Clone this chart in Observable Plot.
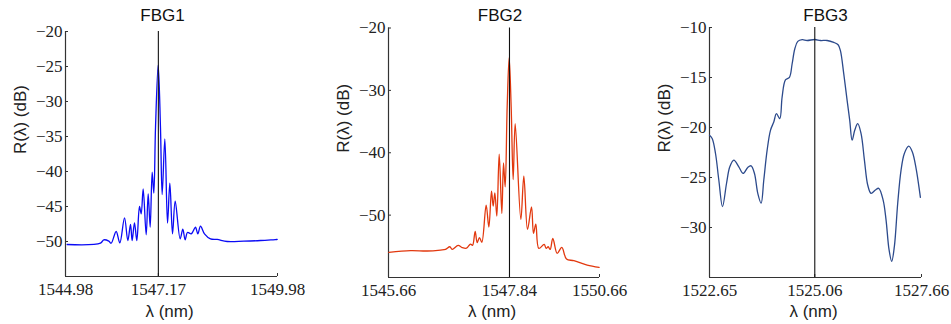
<!DOCTYPE html>
<html>
<head>
<meta charset="utf-8">
<script src="https://cdn.jsdelivr.net/npm/d3@7"></script>
<script src="https://cdn.jsdelivr.net/npm/@observablehq/plot@0.6"></script>
<style>
  html, body { margin: 0; padding: 0; background: #fff; }
  #wrap { position: relative; width: 951px; height: 324px; overflow: hidden; }
  #wrap > svg { position: absolute; top: 0; }
</style>
</head>
<body>
<div id="wrap"></div>
<script>
// ---------- data ----------
const titles = ["FBG1", "FBG2", "FBG3"];
const xLabel = "λ (nm)";
const yLabel = "R(λ) (dB)";

// FBG1
const fbg1Lambda = [1545.019, 1545.805, 1545.884, 1546.002, 1546.057, 1546.175, 1546.261, 1546.372, 1546.450, 1546.513,
  1546.552, 1546.607, 1546.662, 1546.725, 1546.765, 1546.812, 1546.883, 1546.930, 1546.977, 1547.024,
  1547.063, 1547.103, 1547.166, 1547.220, 1547.260, 1547.323, 1547.386, 1547.441, 1547.504, 1547.567,
  1547.684, 1547.747, 1547.802, 1547.857, 1547.944, 1547.991, 1548.046, 1548.101, 1548.164, 1548.258,
  1548.400, 1548.557, 1548.793, 1549.186, 1549.579, 1549.972];
const fbg1Db = [-50.43, -50.24, -49.76, -49.95, -50.24, -48.57, -50.19, -46.62, -49.86, -47.57,
  -49.86, -47.33, -49.86, -45.0, -46.05, -42.48, -49.05, -43.19, -47.95, -40.10,
  -43.10, -33.7, -24.76, -33.7, -43.29, -35.33, -47.38, -41.67, -48.90, -44.24,
  -49.62, -48.24, -49.76, -48.71, -48.90, -48.52, -47.95, -48.90, -47.81, -48.90,
  -49.62, -49.71, -50.0, -49.95, -49.86, -49.71];
const fbg1XDomain = [1544.98, 1549.98];
const fbg1XTicks = [1544.98, 1547.17, 1549.98];
const fbg1XTickLabels = ["1544.98", "1547.17", "1549.98"];
const fbg1YDomain = [-55, -20];
const fbg1YTicks = [-50, -45, -40, -35, -30, -25, -20];
const fbg1Center = 1547.17;

// FBG2
const fbg2Lambda = [1545.668, 1546.181, 1546.576, 1546.892, 1547.011, 1547.113, 1547.169, 1547.311, 1547.406, 1547.508,
  1547.603, 1547.651, 1547.714, 1547.761, 1547.816, 1547.872, 1547.974, 1548.038, 1548.101, 1548.141,
  1548.180, 1548.227, 1548.283, 1548.346, 1548.385, 1548.425, 1548.472, 1548.519, 1548.567, 1548.614,
  1548.662, 1548.796, 1548.867, 1548.954, 1549.049, 1549.096, 1549.151, 1549.222, 1549.349, 1549.396,
  1549.444, 1549.491, 1549.554, 1549.657, 1549.767, 1549.878, 1550.052, 1550.368, 1550.650];
const fbg2Db = [-55.97, -55.7, -55.75, -55.6, -55.5, -55.07, -55.5, -54.85, -55.2, -55.3,
  -54.64, -54.85, -52.6, -54.4, -53.6, -54.35, -48.4, -51.9, -46.16, -48.56,
  -46.43, -50.16, -40.24, -49.73, -41.63, -45.47, -32.67, -24.77, -32.67, -44.29,
  -35.33, -50.7, -43.76, -52.3, -48.67, -52.93, -51.44, -55.33, -54.7, -55.33,
  -55.07, -55.5, -53.73, -56.13, -55.17, -57.04, -57.3, -58.0, -58.37];
const fbg2XDomain = [1545.66, 1550.66];
const fbg2XTicks = [1545.66, 1548.527, 1550.66];
const fbg2XTickLabels = ["1545.66", "1547.84", "1550.66"];
const fbg2YDomain = [-60, -20];
const fbg2YTicks = [-50, -40, -30, -20];
const fbg2Center = 1548.527;

// FBG3
const fbg3Lambda = [1522.650, 1522.713, 1522.792, 1522.870, 1522.957, 1523.052, 1523.130, 1523.225, 1523.343, 1523.445,
  1523.555, 1523.634, 1523.713, 1523.791, 1523.870, 1523.933, 1524.012, 1524.091, 1524.169, 1524.232,
  1524.311, 1524.366, 1524.445, 1524.539, 1524.602, 1524.665, 1524.736, 1524.839, 1524.957, 1525.138,
  1525.272, 1525.429, 1525.587, 1525.689, 1525.744, 1525.823, 1525.902, 1525.964, 1526.020, 1526.082,
  1526.153, 1526.232, 1526.311, 1526.389, 1526.468, 1526.571, 1526.649, 1526.752, 1526.822, 1526.893,
  1526.956, 1527.019, 1527.098, 1527.177, 1527.255, 1527.358, 1527.444, 1527.539, 1527.634];
const fbg3Db = [-20.78, -21.1, -22.6, -25.25, -27.91, -25.6, -23.93, -23.26, -23.93, -24.59,
  -23.99, -23.83, -24.6, -26.58, -27.57, -25.25, -22.27, -20.28, -19.45, -18.62,
  -19.12, -16.96, -15.24, -14.98, -13.65, -12.15, -11.39, -11.22, -11.3, -11.2,
  -11.3, -11.3, -11.49, -11.72, -12.32, -14.64, -17.29, -19.28, -21.27, -20.28,
  -19.62, -20.61, -23.26, -25.75, -26.58, -26.25, -26.08, -27.24, -29.23, -32.22,
  -33.38, -31.89, -27.57, -24.26, -22.6, -21.87, -22.44, -24.26, -26.98];
const fbg3XDomain = [1522.65, 1527.66];
const fbg3XTicks = [1522.65, 1525.138, 1527.66];
const fbg3XTickLabels = ["1522.65", "1525.06", "1527.66"];
const fbg3YDomain = [-35, -10];
const fbg3YTicks = [-30, -25, -20, -15, -10];
const fbg3Center = 1525.138;

// ---------- drawing ----------
const panels = [
  {title: titles[0], lambda: fbg1Lambda, db: fbg1Db, xDomain: fbg1XDomain, xTicks: fbg1XTicks, xTickLabels: fbg1XTickLabels,
   yDomain: fbg1YDomain, yTicks: fbg1YTicks, center: fbg1Center, color: "#0a0af5",
   left: 0, width: 317, mL: 65, mR: 40, mT: 31, mB: 48, titleDx: -9},
  {title: titles[1], lambda: fbg2Lambda, db: fbg2Db, xDomain: fbg2XDomain, xTicks: fbg2XTicks, xTickLabels: fbg2XTickLabels,
   yDomain: fbg2YDomain, yTicks: fbg2YTicks, center: fbg2Center, color: "#e2380e",
   left: 317, width: 317, mL: 71, mR: 35, mT: 27.5, mB: 47, titleDx: 6},
  {title: titles[2], lambda: fbg3Lambda, db: fbg3Db, xDomain: fbg3XDomain, xTicks: fbg3XTicks, xTickLabels: fbg3XTickLabels,
   yDomain: fbg3YDomain, yTicks: fbg3YTicks, center: fbg3Center, color: "#2c4a8c",
   left: 634, width: 317, mL: 75, mR: 30, mT: 27, mB: 47, titleDx: 10}
];

const fmtY = d => (d < 0 ? "\u2212" + Math.abs(d) : String(d));
const wrap = document.getElementById("wrap");
const serif = "Liberation Serif";
const sans = "Liberation Sans";

for (const p of panels) {
  const data = p.lambda.map((x, i) => ({x, y: p.db[i]}));
  const chart = Plot.plot({
    width: p.width,
    height: 324,
    marginLeft: p.mL, marginRight: p.mR, marginTop: p.mT, marginBottom: p.mB,
    style: {background: "transparent", overflow: "visible", color: "#222"},
    x: {domain: p.xDomain},
    y: {domain: p.yDomain},
    marks: [
      Plot.axisX(p.xTicks, {
        tickSize: -3, tickPadding: 9, fontSize: 17, fontFamily: serif,
        stroke: "#333", label: null,
        tickFormat: d => p.xTickLabels[p.xTicks.indexOf(d)]
      }),
      Plot.axisY(p.yTicks, {
        tickSize: -3, tickPadding: 6, fontSize: 17, fontFamily: serif,
        stroke: "#333", label: null, tickFormat: fmtY
      }),
      Plot.ruleX([p.xDomain[0]], {stroke: "#333", strokeWidth: 1.2}),
      Plot.ruleY([p.yDomain[0]], {stroke: "#333", strokeWidth: 1.2}),
      Plot.line(data, {x: "x", y: "y", stroke: p.color, strokeWidth: 1.3, curve: "catmull-rom"}),
      Plot.ruleX([p.center], {stroke: "#111", strokeWidth: 1.1}),
      Plot.text([p.title], {frameAnchor: "top", lineAnchor: "middle", dy: 15 - p.mT, dx: p.titleDx, fontSize: 17,
        fontFamily: sans, fill: "#111"}),
      Plot.text([xLabel], {frameAnchor: "bottom", lineAnchor: "middle", dy: 311 - (324 - p.mB), dx: -2, fontSize: 17,
        fontFamily: sans, fill: "#222"}),
      Plot.text([yLabel], {frameAnchor: "left", rotate: -90, dx: -45, fontSize: 17,
        fontFamily: sans, fill: "#222"})
    ]
  });
  chart.style.left = p.left + "px";
  wrap.appendChild(chart);
}
</script>
</body>
</html>
